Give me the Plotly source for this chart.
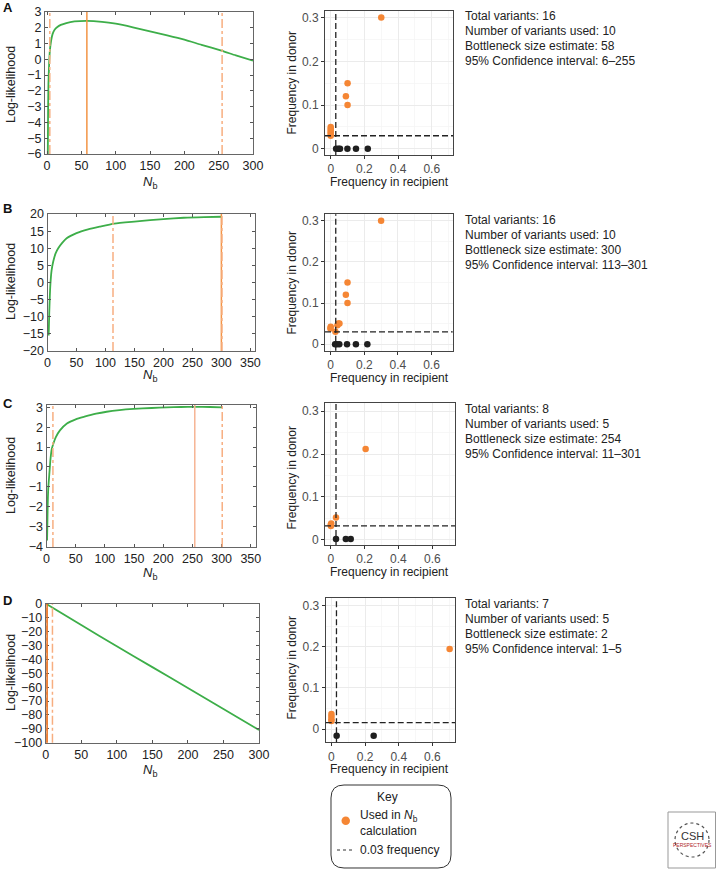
import plotly.graph_objects as go

W, H = 716, 870

# ---------------- data ----------------
# Panel A log-likelihood curve
A_nb = [1, 1.5, 2, 3, 4, 6, 8, 11, 15, 20, 28, 40, 58, 80, 100, 125, 150, 175, 200, 225, 254, 275, 300]
A_ll = [-6.5, -3.2, -1.6, -0.3, 0.5, 1.2, 1.6, 1.88, 2.05, 2.18, 2.3, 2.4, 2.44, 2.38, 2.26, 2.03, 1.77, 1.52, 1.25, 0.92, 0.55, 0.25, -0.08]
A_est, A_ci = 58, [4, 255]
# Panel B
B_nb = [2, 3, 4, 5, 7, 10, 14, 18.5, 25, 33, 50, 70, 90, 115, 150, 177, 200, 235, 270, 300]
B_ll = [-15.5, -9, -4, -0.5, 3.5, 6.2, 8.5, 10, 11.5, 12.9, 14.4, 15.5, 16.3, 17.2, 17.8, 18.2, 18.5, 18.9, 19.1, 19.2]
B_est, B_ci = 300, [113, 301]
# Panel C
C_nb = [1, 2, 3, 5, 7, 9, 11.7, 16, 23, 35, 50, 65, 85, 103, 125, 149, 180, 206, 230, 254, 280, 301]
C_ll = [-3.7, -2.0, -1.1, -0.3, 0.45, 0.9, 1.17, 1.5, 1.84, 2.19, 2.4, 2.53, 2.68, 2.78, 2.86, 2.92, 2.97, 3.0, 3.02, 3.03, 3.02, 3.0]
C_est, C_ci = 254, [11, 301]
# Panel D
D_nb = [1, 50, 100, 150, 200, 250, 300]
D_ll = [0.0, -15.2, -30.5, -45.5, -60.6, -75.7, -90.8]
D_est, D_ci = 2, [1, 9.5]

# Scatter: donor vs recipient frequencies
A_used_x = [0.3, 0.1, 0.09, 0.1, 0.0, 0.0, 0.0, 0.0, 0.0, 0.0]
A_used_y = [0.3, 0.15, 0.12, 0.1, 0.05, 0.046, 0.042, 0.038, 0.034, 0.03]
A_un_x = [0.032, 0.046, 0.055, 0.099, 0.15, 0.22]
A_un_y = [0, 0, 0, 0, 0, 0]
A_thr = 0.03

B_used_x = [0.3, 0.1, 0.09, 0.1, 0.0, -0.002, 0.028, 0.04, 0.046, 0.052]
B_used_y = [0.3, 0.15, 0.12, 0.1, 0.042, 0.038, 0.03, 0.046, 0.05, 0.05]
B_un_x = [0.026, 0.036, 0.051, 0.097, 0.15, 0.218]
B_un_y = [0, 0, 0, 0, 0, 0]
B_thr = 0.03

C_used_x = [0.206, 0.031, 0.003, 0.0, 0.001]
C_used_y = [0.212, 0.052, 0.038, 0.035, 0.032]
C_un_x = [0.031, 0.089, 0.118]
C_un_y = [0.002, 0.002, 0.002]
C_thr_x, C_thr_y = 0.031, 0.0326

D_used_x = [0.702, 0.0, 0.0, 0.0, 0.0]
D_used_y = [0.195, 0.037, 0.031, 0.024, 0.02]
D_un_x = [0.031, 0.251]
D_un_y = [-0.016, -0.016]
D_thr_x, D_thr_y = 0.03, 0.016

texts = {
    "A": ["Total variants: 16", "Number of variants used: 10", "Bottleneck size estimate: 58", "95% Confidence interval: 6\u2013255"],
    "B": ["Total variants: 16", "Number of variants used: 10", "Bottleneck size estimate: 300", "95% Confidence interval: 113\u2013301"],
    "C": ["Total variants: 8", "Number of variants used: 5", "Bottleneck size estimate: 254", "95% Confidence interval: 11\u2013301"],
    "D": ["Total variants: 7", "Number of variants used: 5", "Bottleneck size estimate: 2", "95% Confidence interval: 1\u20135"],
}

# ---------------- layout helpers ----------------
def px(x):
    return x / W

def py(y):
    return 1 - y / H

FONT = "Liberation Sans, Arial, sans-serif"
GREEN = "#3DAE49"
ORANGE = "#F58634"
DOT_BLACK = "#1f1f1f"
THR_DASH = "6px,3px"

fig = go.Figure()
layout = dict(
    width=W, height=H, margin=dict(l=0, r=0, t=0, b=0, autoexpand=False),
    paper_bgcolor="white", plot_bgcolor="white", showlegend=False,
    font=dict(family=FONT, size=12, color="#222"),
)
shapes, annots = [], []

panels = [
    dict(L="A", nb=A_nb, ll=A_ll, est=A_est, ci=A_ci, lbox=(45, 253, 12, 154), lx=[-3, 300], ly=[-6, 3], yt=list(range(-6, 4, 1)), lxt=list(range(0, 301, 50)),
         rbox=(325, 453, 11, 155), rx=[-0.034, 0.726], ry=[-0.014, 0.315],
         ux=A_used_x, uy=A_used_y, nx=A_un_x, ny=A_un_y, tx=A_thr, ty=A_thr,
         solid="#F39445", dd="#F7AE80", letter_y=8, text_y=16, ll_y=85, nb_y=182, fd_y=83, fr_y=182),
    dict(L="B", nb=B_nb, ll=B_ll, est=B_est, ci=B_ci, lbox=(47.5, 255, 214, 351), lx=[0, 358], ly=[-20, 20], yt=list(range(-20, 21, 5)), lxt=list(range(0, 351, 50)),
         rbox=(325, 452.7, 214.3, 350.7), rx=[-0.034, 0.726], ry=[-0.016, 0.316],
         ux=B_used_x, uy=B_used_y, nx=B_un_x, ny=B_un_y, tx=B_thr, ty=B_thr,
         solid="#F39445", dd="#F7AE80", letter_y=208, text_y=220, ll_y=282, nb_y=375, fd_y=283, fr_y=378),
    dict(L="C", nb=C_nb, ll=C_ll, est=C_est, ci=C_ci, lbox=(46.5, 255.5, 405, 547), lx=[0, 358], ly=[-4.03, 3.12], yt=list(range(-4, 4, 1)), lxt=list(range(0, 351, 50)),
         rbox=(325, 455, 403, 545), rx=[-0.034, 0.734], ry=[-0.012, 0.319],
         ux=C_used_x, uy=C_used_y, nx=C_un_x, ny=C_un_y, tx=C_thr_x, ty=C_thr_y,
         solid="#F6B494", dd="#F7AE80", letter_y=403, text_y=409, ll_y=476, nb_y=573, fd_y=478, fr_y=572),
    dict(L="D", nb=D_nb, ll=D_ll, est=D_est, ci=D_ci, lbox=(45.7, 259, 604, 742.7), lx=[0, 300], ly=[-100, 0], yt=list(range(-100, 1, 10)), lxt=list(range(0, 301, 50)),
         rbox=(325.7, 455, 598.3, 742.3), rx=[-0.034, 0.734], ry=[-0.032, 0.318],
         ux=D_used_x, uy=D_used_y, nx=D_un_x, ny=D_un_y, tx=D_thr_x, ty=D_thr_y,
         solid="#E8701F", dd="#F7AE80", letter_y=600, text_y=604, ll_y=673, nb_y=770, fd_y=668, fr_y=769),
]

for i, p in enumerate(panels):
    li = 2 * i + 1
    ri = 2 * i + 2
    lxk = "xaxis" if li == 1 else f"xaxis{li}"
    lyk = "yaxis" if li == 1 else f"yaxis{li}"
    rxk, ryk = f"xaxis{ri}", f"yaxis{ri}"
    lx_ref = "x" if li == 1 else f"x{li}"
    ly_ref = "y" if li == 1 else f"y{li}"
    rx_ref, ry_ref = f"x{ri}", f"y{ri}"

    x0, x1, y0, y1 = p["lbox"]
    common_left = dict(ticks="inside", ticklen=3, tickcolor="#555", mirror="ticks", showline=True,
                       linecolor="#666", linewidth=1, showgrid=False, zeroline=False, automargin=False,
                       tickfont=dict(size=12.5, color="#222"))
    layout[lxk] = dict(domain=[px(x0), px(x1)], anchor=ly_ref, range=p["lx"], tickvals=p["lxt"], **common_left)
    layout[lyk] = dict(domain=[py(y1), py(y0)], anchor=lx_ref, range=p["ly"], tickvals=p["yt"], **common_left)

    # orange vertical lines: CI bounds (dash-dot) and estimate (solid)
    for xv, dash, col in [(p["ci"][0], "dashdot", p["dd"]), (p["est"], "solid", p["solid"]), (p["ci"][1], "dashdot", p["dd"])]:
        shapes.append(dict(type="line", xref=lx_ref, yref=f"{ly_ref} domain", x0=xv, x1=xv, y0=0, y1=1,
                           line=dict(color=col, width=1.5, dash=dash), layer="above"))

    fig.add_trace(go.Scatter(x=p["nb"], y=p["ll"], mode="lines",
                             line=dict(color=GREEN, width=1.8, shape="spline", smoothing=0.6),
                             xaxis=lx_ref, yaxis=ly_ref, hoverinfo="skip"))

    # right scatter plot
    x0, x1, y0, y1 = p["rbox"]
    common_right = dict(ticks="outside", ticklen=3, tickcolor="#333", mirror=True, showline=True,
                        linecolor="#444", linewidth=1, showgrid=True, gridcolor="#EBEBEB", gridwidth=1,
                        zeroline=False, automargin=False, tickfont=dict(size=12, color="#4D4D4D"))
    layout[rxk] = dict(domain=[px(x0), px(x1)], anchor=ry_ref, range=p["rx"], tickvals=[0, 0.2, 0.4, 0.6],
                       ticktext=["0", "0.2", "0.4", "0.6"],
                       minor=dict(dtick=0.1, tick0=0, showgrid=True, gridcolor="#F4F4F4", gridwidth=0.7, ticks=""),
                       **common_right)
    layout[ryk] = dict(domain=[py(y1), py(y0)], anchor=rx_ref, range=p["ry"], tickvals=[0, 0.1, 0.2, 0.3],
                       ticktext=["0", "0.1", "0.2", "0.3"],
                       minor=dict(dtick=0.05, tick0=0, showgrid=True, gridcolor="#F4F4F4", gridwidth=0.7, ticks=""),
                       **common_right)
    shapes.append(dict(type="line", xref=rx_ref, yref=f"{ry_ref} domain", x0=p["tx"], x1=p["tx"], y0=0, y1=1,
                       line=dict(color="#222", width=1.3, dash=THR_DASH), layer="above"))
    shapes.append(dict(type="line", xref=f"{rx_ref} domain", yref=ry_ref, x0=0, x1=1, y0=p["ty"], y1=p["ty"],
                       line=dict(color="#222", width=1.3, dash=THR_DASH), layer="above"))
    fig.add_trace(go.Scatter(x=p["nx"], y=p["ny"], mode="markers", marker=dict(color=DOT_BLACK, size=6.5),
                             xaxis=rx_ref, yaxis=ry_ref, hoverinfo="skip", cliponaxis=False))
    fig.add_trace(go.Scatter(x=p["ux"], y=p["uy"], mode="markers", marker=dict(color=ORANGE, size=6.5),
                             xaxis=rx_ref, yaxis=ry_ref, hoverinfo="skip", cliponaxis=False))

    # annotations
    annots.append(dict(text=f"<b>{p['L']}</b>", x=px(1), y=py(p["letter_y"]), xref="paper", yref="paper",
                       xanchor="left", yanchor="middle", showarrow=False, font=dict(size=13, color="#111")))
    annots.append(dict(text="Log-likelihood", textangle=-90, x=px(11), y=py(p["ll_y"]), xref="paper", yref="paper",
                       xanchor="center", yanchor="middle", showarrow=False, font=dict(size=12.5, color="#222")))
    annots.append(dict(text="<i>N</i><sub>b</sub>", x=px(150), y=py(p["nb_y"]), xref="paper", yref="paper",
                       xanchor="center", yanchor="middle", showarrow=False, font=dict(size=13, color="#222")))
    annots.append(dict(text="Frequency in donor", textangle=-90, x=px(291.5), y=py(p["fd_y"]), xref="paper", yref="paper",
                       xanchor="center", yanchor="middle", showarrow=False, font=dict(size=12, color="#222")))
    annots.append(dict(text="Frequency in recipient", x=px(389), y=py(p["fr_y"]), xref="paper", yref="paper",
                       xanchor="center", yanchor="middle", showarrow=False, font=dict(size=12, color="#222")))
    for k, line in enumerate(texts[p["L"]]):
        annots.append(dict(text=line, x=px(462.5), y=py(p["text_y"] + 15 * k), xref="paper", yref="paper",
                           xanchor="left", yanchor="middle", showarrow=False, font=dict(size=12, color="#222")))

# ---------------- key box ----------------
def rounded_rect(xa, ya, xb, yb, r):
    def P(x, y):
        return f"{px(x):.5f},{py(y):.5f}"
    return (f"M {P(xa + r, ya)} L {P(xb - r, ya)} Q {P(xb, ya)} {P(xb, ya + r)} "
            f"L {P(xb, yb - r)} Q {P(xb, yb)} {P(xb - r, yb)} L {P(xa + r, yb)} "
            f"Q {P(xa, yb)} {P(xa, yb - r)} L {P(xa, ya + r)} Q {P(xa, ya)} {P(xa + r, ya)} Z")

shapes.append(dict(type="path", xref="paper", yref="paper", path=rounded_rect(331, 785, 451, 868, 13),
                   line=dict(color="#333", width=1), fillcolor="white"))
shapes.append(dict(type="circle", xref="paper", yref="paper", x0=px(341.5), x1=px(350), y0=py(825), y1=py(816.5),
                   line=dict(color=ORANGE, width=0), fillcolor=ORANGE))
shapes.append(dict(type="line", xref="paper", yref="paper", x0=px(337), x1=px(355), y0=py(850), y1=py(850),
                   line=dict(color="#333", width=1, dash="dot")))
annots.append(dict(text="Key", x=px(387), y=py(797), xref="paper", yref="paper", xanchor="center", yanchor="middle",
                   showarrow=False, font=dict(size=12, color="#222")))
annots.append(dict(text="Used in <i>N</i><sub>b</sub>", x=px(357.5), y=py(816), xref="paper", yref="paper",
                   xanchor="left", yanchor="middle", showarrow=False, font=dict(size=12, color="#222")))
annots.append(dict(text="calculation", x=px(357.5), y=py(831), xref="paper", yref="paper",
                   xanchor="left", yanchor="middle", showarrow=False, font=dict(size=12, color="#222")))
annots.append(dict(text="0.03 frequency", x=px(357.5), y=py(850), xref="paper", yref="paper",
                   xanchor="left", yanchor="middle", showarrow=False, font=dict(size=12, color="#222")))

# ---------------- logo ----------------
shapes.append(dict(type="rect", xref="paper", yref="paper", x0=px(668), x1=px(715.5), y0=py(868), y1=py(812),
                   line=dict(color="#999", width=1), fillcolor="white"))
shapes.append(dict(type="circle", xref="paper", yref="paper", x0=px(675), x1=px(709), y0=py(857), y1=py(823),
                   line=dict(color="#555", width=1.2, dash="dot")))
annots.append(dict(text="CSH", x=px(692), y=py(836), xref="paper", yref="paper", xanchor="center", yanchor="middle",
                   showarrow=False, font=dict(size=11, color="#333")))
annots.append(dict(text="PERSPECTIVES", x=px(692), y=py(845), xref="paper", yref="paper", xanchor="center",
                   yanchor="middle", showarrow=False, font=dict(size=5, color="#B0262B")))

layout["shapes"] = shapes
layout["annotations"] = annots
fig.update_layout(**layout)
fig.write_html(
    "out.html",
    config={"displayModeBar": False, "staticPlot": True},
    post_script="document.body.style.margin='0';document.body.style.padding='0';document.body.style.overflow='hidden';",
)
